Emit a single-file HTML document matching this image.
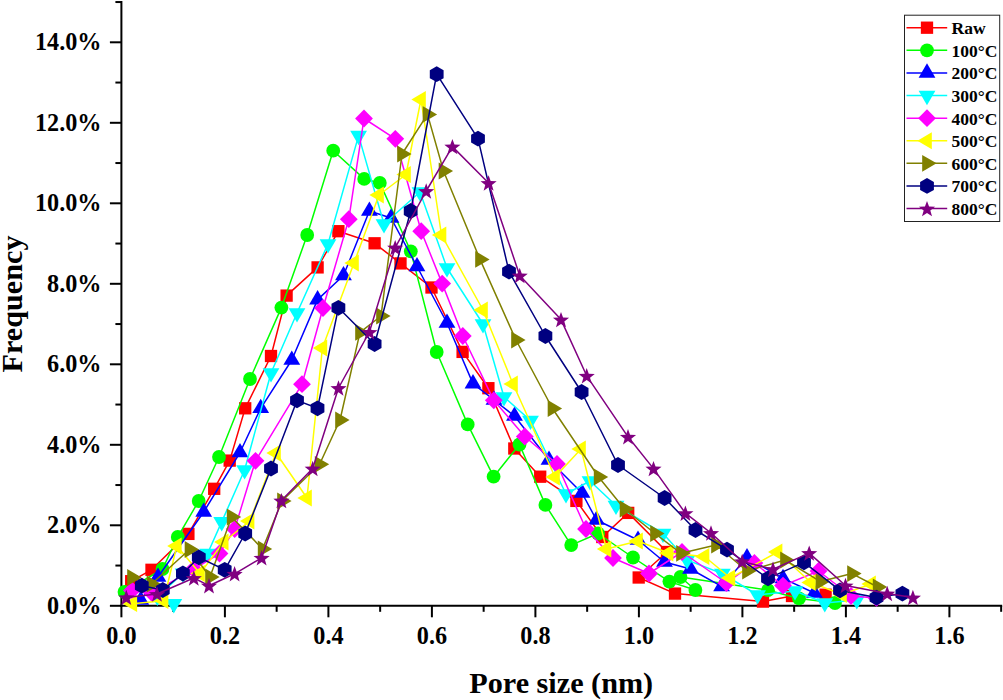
<!DOCTYPE html>
<html><head><meta charset="utf-8"><title>Pore size distribution</title>
<style>
html,body{margin:0;padding:0;background:#fff;}
body{width:1003px;height:700px;overflow:hidden;font-family:"Liberation Serif",serif;}
svg{display:block;}
text{font-family:"Liberation Serif",serif;font-weight:bold;fill:#000;}
.tk{font-size:24.2px;}
.ax{font-size:30.2px;}
.lg{font-size:17.5px;}
</style></head><body>
<svg width="1003" height="700" viewBox="0 0 1003 700">
<rect width="1003" height="700" fill="#fff"/>
<defs>
<g id="s_raw" fill="#ff0000"><rect x="-6.15" y="-6.15" width="12.3" height="12.3"/></g>
<g id="s_g" fill="#00ff00"><circle r="6.9"/></g>
<g id="s_b" fill="#0000ff"><polygon points="0.00,-9.60 -8.40,4.80 8.40,4.80"/></g>
<g id="s_c" fill="#00ffff"><polygon points="0.00,9.60 -8.40,-4.80 8.40,-4.80"/></g>
<g id="s_m" fill="#ff00ff"><polygon points="0.00,-8.90 8.90,0.00 0.00,8.90 -8.90,0.00"/></g>
<g id="s_y" fill="#ffff00"><polygon points="-9.60,0.00 4.80,-8.40 4.80,8.40"/></g>
<g id="s_o" fill="#808000"><polygon points="9.60,0.00 -4.80,-8.40 -4.80,8.40"/></g>
<g id="s_n" fill="#000080"><polygon points="0.00,-7.90 6.90,-3.95 6.90,3.95 0.00,7.90 -6.90,3.95 -6.90,-3.95"/></g>
<g id="s_p" fill="#800080"><polygon points="0.00,-7.70 2.06,-2.03 8.08,-1.83 3.33,1.88 5.00,7.68 0.00,4.30 -5.00,7.68 -3.33,1.88 -8.08,-1.83 -2.06,-2.03"/></g>
</defs>
<g stroke="#000" stroke-width="2" fill="none" stroke-linecap="butt">
<line x1="121.4" y1="1" x2="121.4" y2="606.8"/>
<line x1="120.4" y1="605.8" x2="1002.2" y2="605.8"/>
<line x1="109.9" y1="605.80" x2="121.4" y2="605.80"/>
<line x1="115.4" y1="565.55" x2="121.4" y2="565.55"/>
<line x1="109.9" y1="525.30" x2="121.4" y2="525.30"/>
<line x1="115.4" y1="485.05" x2="121.4" y2="485.05"/>
<line x1="109.9" y1="444.80" x2="121.4" y2="444.80"/>
<line x1="115.4" y1="404.55" x2="121.4" y2="404.55"/>
<line x1="109.9" y1="364.30" x2="121.4" y2="364.30"/>
<line x1="115.4" y1="324.05" x2="121.4" y2="324.05"/>
<line x1="109.9" y1="283.80" x2="121.4" y2="283.80"/>
<line x1="115.4" y1="243.55" x2="121.4" y2="243.55"/>
<line x1="109.9" y1="203.30" x2="121.4" y2="203.30"/>
<line x1="115.4" y1="163.05" x2="121.4" y2="163.05"/>
<line x1="109.9" y1="122.80" x2="121.4" y2="122.80"/>
<line x1="115.4" y1="82.55" x2="121.4" y2="82.55"/>
<line x1="109.9" y1="42.30" x2="121.4" y2="42.30"/>
<line x1="115.4" y1="2.05" x2="121.4" y2="2.05"/>
<line x1="121.40" y1="605.8" x2="121.40" y2="617.3"/>
<line x1="173.15" y1="605.8" x2="173.15" y2="611.8"/>
<line x1="224.90" y1="605.8" x2="224.90" y2="617.3"/>
<line x1="276.65" y1="605.8" x2="276.65" y2="611.8"/>
<line x1="328.40" y1="605.8" x2="328.40" y2="617.3"/>
<line x1="380.15" y1="605.8" x2="380.15" y2="611.8"/>
<line x1="431.90" y1="605.8" x2="431.90" y2="617.3"/>
<line x1="483.65" y1="605.8" x2="483.65" y2="611.8"/>
<line x1="535.40" y1="605.8" x2="535.40" y2="617.3"/>
<line x1="587.15" y1="605.8" x2="587.15" y2="611.8"/>
<line x1="638.90" y1="605.8" x2="638.90" y2="617.3"/>
<line x1="690.65" y1="605.8" x2="690.65" y2="611.8"/>
<line x1="742.40" y1="605.8" x2="742.40" y2="617.3"/>
<line x1="794.15" y1="605.8" x2="794.15" y2="611.8"/>
<line x1="845.90" y1="605.8" x2="845.90" y2="617.3"/>
<line x1="897.65" y1="605.8" x2="897.65" y2="611.8"/>
<line x1="949.40" y1="605.8" x2="949.40" y2="617.3"/>
<line x1="1001.15" y1="605.8" x2="1001.15" y2="611.8"/>
</g>
<text class="tk" x="101.5" y="613.7" text-anchor="end">0.0%</text>
<text class="tk" x="101.5" y="533.2" text-anchor="end">2.0%</text>
<text class="tk" x="101.5" y="452.7" text-anchor="end">4.0%</text>
<text class="tk" x="101.5" y="372.2" text-anchor="end">6.0%</text>
<text class="tk" x="101.5" y="291.7" text-anchor="end">8.0%</text>
<text class="tk" x="101.5" y="211.2" text-anchor="end">10.0%</text>
<text class="tk" x="101.5" y="130.7" text-anchor="end">12.0%</text>
<text class="tk" x="101.5" y="50.2" text-anchor="end">14.0%</text>
<text class="tk" x="121.4" y="644.3" text-anchor="middle">0.0</text>
<text class="tk" x="224.9" y="644.3" text-anchor="middle">0.2</text>
<text class="tk" x="328.4" y="644.3" text-anchor="middle">0.4</text>
<text class="tk" x="431.9" y="644.3" text-anchor="middle">0.6</text>
<text class="tk" x="535.4" y="644.3" text-anchor="middle">0.8</text>
<text class="tk" x="638.9" y="644.3" text-anchor="middle">1.0</text>
<text class="tk" x="742.4" y="644.3" text-anchor="middle">1.2</text>
<text class="tk" x="845.9" y="644.3" text-anchor="middle">1.4</text>
<text class="tk" x="949.4" y="644.3" text-anchor="middle">1.6</text>
<text class="ax" x="561.2" y="692.5" text-anchor="middle">Pore size (nm)</text>
<text class="ax" transform="translate(22.4,304) rotate(-90)" text-anchor="middle">Frequency</text>
<polyline fill="none" stroke="#ff0000" stroke-width="1.5" stroke-linejoin="round" points="131.20,581.20 151.50,569.80 188.40,533.90 214.20,488.80 229.70,460.60 245.20,408.30 271.00,356.00 286.60,295.60 317.60,267.40 338.40,231.20 374.60,243.30 400.50,263.40 431.50,287.50 462.60,351.90 488.40,388.20 514.30,448.50 540.20,476.70 576.40,500.90 602.30,537.00 628.20,512.90 667.00,552.00 638.70,577.50 675.00,593.60 763.00,601.60 792.00,596.00 825.60,594.70"/>
<use href="#s_raw" x="131.2" y="581.2"/>
<use href="#s_raw" x="151.5" y="569.8"/>
<use href="#s_raw" x="188.4" y="533.9"/>
<use href="#s_raw" x="214.2" y="488.8"/>
<use href="#s_raw" x="229.7" y="460.6"/>
<use href="#s_raw" x="245.2" y="408.3"/>
<use href="#s_raw" x="271.0" y="356.0"/>
<use href="#s_raw" x="286.6" y="295.6"/>
<use href="#s_raw" x="317.6" y="267.4"/>
<use href="#s_raw" x="338.4" y="231.2"/>
<use href="#s_raw" x="374.6" y="243.3"/>
<use href="#s_raw" x="400.5" y="263.4"/>
<use href="#s_raw" x="431.5" y="287.5"/>
<use href="#s_raw" x="462.6" y="351.9"/>
<use href="#s_raw" x="488.4" y="388.2"/>
<use href="#s_raw" x="514.3" y="448.5"/>
<use href="#s_raw" x="540.2" y="476.7"/>
<use href="#s_raw" x="576.4" y="500.9"/>
<use href="#s_raw" x="602.3" y="537.0"/>
<use href="#s_raw" x="628.2" y="512.9"/>
<use href="#s_raw" x="667.0" y="552.0"/>
<use href="#s_raw" x="638.7" y="577.5"/>
<use href="#s_raw" x="675.0" y="593.6"/>
<use href="#s_raw" x="763.0" y="601.6"/>
<use href="#s_raw" x="792.0" y="596.0"/>
<use href="#s_raw" x="825.6" y="594.7"/>
<polyline fill="none" stroke="#00ff00" stroke-width="1.5" stroke-linejoin="round" points="124.50,592.00 162.50,569.00 177.80,536.90 198.70,501.00 219.00,457.00 250.00,379.00 281.40,307.60 307.20,235.00 333.20,150.70 364.20,178.90 379.80,182.90 410.80,251.30 436.70,352.00 467.70,424.40 493.60,476.70 519.50,444.50 545.40,504.90 571.20,545.10 598.00,533.50 633.00,557.50 669.40,581.60 695.40,590.00 680.50,577.00 768.00,590.20 799.00,598.40 835.00,603.00"/>
<use href="#s_g" x="124.5" y="592.0"/>
<use href="#s_g" x="162.5" y="569.0"/>
<use href="#s_g" x="177.8" y="536.9"/>
<use href="#s_g" x="198.7" y="501.0"/>
<use href="#s_g" x="219.0" y="457.0"/>
<use href="#s_g" x="250.0" y="379.0"/>
<use href="#s_g" x="281.4" y="307.6"/>
<use href="#s_g" x="307.2" y="235.0"/>
<use href="#s_g" x="333.2" y="150.7"/>
<use href="#s_g" x="364.2" y="178.9"/>
<use href="#s_g" x="379.8" y="182.9"/>
<use href="#s_g" x="410.8" y="251.3"/>
<use href="#s_g" x="436.7" y="352.0"/>
<use href="#s_g" x="467.7" y="424.4"/>
<use href="#s_g" x="493.6" y="476.7"/>
<use href="#s_g" x="519.5" y="444.5"/>
<use href="#s_g" x="545.4" y="504.9"/>
<use href="#s_g" x="571.2" y="545.1"/>
<use href="#s_g" x="598.0" y="533.5"/>
<use href="#s_g" x="633.0" y="557.5"/>
<use href="#s_g" x="669.4" y="581.6"/>
<use href="#s_g" x="695.4" y="590.0"/>
<use href="#s_g" x="680.5" y="577.0"/>
<use href="#s_g" x="768.0" y="590.2"/>
<use href="#s_g" x="799.0" y="598.4"/>
<use href="#s_g" x="835.0" y="603.0"/>
<polyline fill="none" stroke="#0000ff" stroke-width="1.5" stroke-linejoin="round" points="140.80,600.00 158.00,577.00 203.70,512.00 240.00,452.50 260.70,408.30 291.80,360.00 317.60,299.60 343.50,275.50 369.40,211.00 391.00,218.00 417.00,266.50 447.00,323.00 473.00,383.60 494.00,400.00 514.50,416.00 549.00,460.00 582.00,493.00 596.50,520.00 638.00,540.00 664.50,562.00 690.50,569.00 721.60,586.40 747.00,557.60 783.00,578.40 814.40,593.00"/>
<use href="#s_b" x="140.8" y="600.0"/>
<use href="#s_b" x="158.0" y="577.0"/>
<use href="#s_b" x="203.7" y="512.0"/>
<use href="#s_b" x="240.0" y="452.5"/>
<use href="#s_b" x="260.7" y="408.3"/>
<use href="#s_b" x="291.8" y="360.0"/>
<use href="#s_b" x="317.6" y="299.6"/>
<use href="#s_b" x="343.5" y="275.5"/>
<use href="#s_b" x="369.4" y="211.0"/>
<use href="#s_b" x="391.0" y="218.0"/>
<use href="#s_b" x="417.0" y="266.5"/>
<use href="#s_b" x="447.0" y="323.0"/>
<use href="#s_b" x="473.0" y="383.6"/>
<use href="#s_b" x="494.0" y="400.0"/>
<use href="#s_b" x="514.5" y="416.0"/>
<use href="#s_b" x="549.0" y="460.0"/>
<use href="#s_b" x="582.0" y="493.0"/>
<use href="#s_b" x="596.5" y="520.0"/>
<use href="#s_b" x="638.0" y="540.0"/>
<use href="#s_b" x="664.5" y="562.0"/>
<use href="#s_b" x="690.5" y="569.0"/>
<use href="#s_b" x="721.6" y="586.4"/>
<use href="#s_b" x="747.0" y="557.6"/>
<use href="#s_b" x="783.0" y="578.4"/>
<use href="#s_b" x="814.4" y="593.0"/>
<polyline fill="none" stroke="#00ffff" stroke-width="1.5" stroke-linejoin="round" points="173.80,603.80 157.30,596.50 183.10,573.40 207.60,553.50 221.70,521.90 244.60,470.00 271.00,373.00 297.00,313.00 328.00,244.00 358.60,135.60 384.00,224.00 420.00,192.00 447.00,268.00 483.00,324.00 504.00,397.00 530.50,420.50 566.00,494.00 590.00,481.00 616.00,505.50 663.00,533.50 687.00,560.00 722.40,573.60 757.60,595.00 795.00,591.00 824.80,603.00 856.80,600.00"/>
<use href="#s_c" x="173.8" y="603.8"/>
<use href="#s_c" x="157.3" y="596.5"/>
<use href="#s_c" x="183.1" y="573.4"/>
<use href="#s_c" x="207.6" y="553.5"/>
<use href="#s_c" x="221.7" y="521.9"/>
<use href="#s_c" x="244.6" y="470.0"/>
<use href="#s_c" x="271.0" y="373.0"/>
<use href="#s_c" x="297.0" y="313.0"/>
<use href="#s_c" x="328.0" y="244.0"/>
<use href="#s_c" x="358.6" y="135.6"/>
<use href="#s_c" x="384.0" y="224.0"/>
<use href="#s_c" x="420.0" y="192.0"/>
<use href="#s_c" x="447.0" y="268.0"/>
<use href="#s_c" x="483.0" y="324.0"/>
<use href="#s_c" x="504.0" y="397.0"/>
<use href="#s_c" x="530.5" y="420.5"/>
<use href="#s_c" x="566.0" y="494.0"/>
<use href="#s_c" x="590.0" y="481.0"/>
<use href="#s_c" x="616.0" y="505.5"/>
<use href="#s_c" x="663.0" y="533.5"/>
<use href="#s_c" x="687.0" y="560.0"/>
<use href="#s_c" x="722.4" y="573.6"/>
<use href="#s_c" x="757.6" y="595.0"/>
<use href="#s_c" x="795.0" y="591.0"/>
<use href="#s_c" x="824.8" y="603.0"/>
<use href="#s_c" x="856.8" y="600.0"/>
<polyline fill="none" stroke="#ff00ff" stroke-width="1.5" stroke-linejoin="round" points="132.00,590.40 152.00,593.00 193.50,569.30 219.50,553.50 234.70,529.00 255.50,460.80 302.00,384.20 323.00,308.00 348.80,219.20 364.00,118.50 395.30,138.80 421.20,231.20 442.20,283.60 462.80,336.00 493.80,400.30 524.80,436.50 557.00,464.00 586.00,529.00 613.00,558.00 649.00,573.50 682.00,552.00 726.40,583.00 754.40,563.00 783.00,585.60 818.50,571.00 851.00,596.00 876.50,597.90"/>
<use href="#s_m" x="132.0" y="590.4"/>
<use href="#s_m" x="152.0" y="593.0"/>
<use href="#s_m" x="193.5" y="569.3"/>
<use href="#s_m" x="219.5" y="553.5"/>
<use href="#s_m" x="234.7" y="529.0"/>
<use href="#s_m" x="255.5" y="460.8"/>
<use href="#s_m" x="302.0" y="384.2"/>
<use href="#s_m" x="323.0" y="308.0"/>
<use href="#s_m" x="348.8" y="219.2"/>
<use href="#s_m" x="364.0" y="118.5"/>
<use href="#s_m" x="395.3" y="138.8"/>
<use href="#s_m" x="421.2" y="231.2"/>
<use href="#s_m" x="442.2" y="283.6"/>
<use href="#s_m" x="462.8" y="336.0"/>
<use href="#s_m" x="493.8" y="400.3"/>
<use href="#s_m" x="524.8" y="436.5"/>
<use href="#s_m" x="557.0" y="464.0"/>
<use href="#s_m" x="586.0" y="529.0"/>
<use href="#s_m" x="613.0" y="558.0"/>
<use href="#s_m" x="649.0" y="573.5"/>
<use href="#s_m" x="682.0" y="552.0"/>
<use href="#s_m" x="726.4" y="583.0"/>
<use href="#s_m" x="754.4" y="563.0"/>
<use href="#s_m" x="783.0" y="585.6"/>
<use href="#s_m" x="818.5" y="571.0"/>
<use href="#s_m" x="851.0" y="596.0"/>
<use href="#s_m" x="876.5" y="597.9"/>
<polyline fill="none" stroke="#ffff00" stroke-width="1.5" stroke-linejoin="round" points="132.30,603.70 163.60,600.70 176.80,546.00 200.00,573.50 223.70,542.00 249.60,521.00 276.00,453.00 307.00,498.00 322.40,348.00 354.00,263.00 379.00,195.00 406.00,174.50 421.00,99.50 441.50,235.00 483.00,310.00 513.00,384.00 555.00,477.00 581.00,449.00 606.50,549.00 638.00,541.00 668.50,553.00 704.50,556.50 730.40,578.00 777.60,552.00 811.00,582.50 842.00,594.50 871.00,584.00"/>
<use href="#s_y" x="132.3" y="603.7"/>
<use href="#s_y" x="163.6" y="600.7"/>
<use href="#s_y" x="176.8" y="546.0"/>
<use href="#s_y" x="200.0" y="573.5"/>
<use href="#s_y" x="223.7" y="542.0"/>
<use href="#s_y" x="249.6" y="521.0"/>
<use href="#s_y" x="276.0" y="453.0"/>
<use href="#s_y" x="307.0" y="498.0"/>
<use href="#s_y" x="322.4" y="348.0"/>
<use href="#s_y" x="354.0" y="263.0"/>
<use href="#s_y" x="379.0" y="195.0"/>
<use href="#s_y" x="406.0" y="174.5"/>
<use href="#s_y" x="421.0" y="99.5"/>
<use href="#s_y" x="441.5" y="235.0"/>
<use href="#s_y" x="483.0" y="310.0"/>
<use href="#s_y" x="513.0" y="384.0"/>
<use href="#s_y" x="555.0" y="477.0"/>
<use href="#s_y" x="581.0" y="449.0"/>
<use href="#s_y" x="606.5" y="549.0"/>
<use href="#s_y" x="638.0" y="541.0"/>
<use href="#s_y" x="668.5" y="553.0"/>
<use href="#s_y" x="704.5" y="556.5"/>
<use href="#s_y" x="730.4" y="578.0"/>
<use href="#s_y" x="777.6" y="552.0"/>
<use href="#s_y" x="811.0" y="582.5"/>
<use href="#s_y" x="842.0" y="594.5"/>
<use href="#s_y" x="871.0" y="584.0"/>
<polyline fill="none" stroke="#808000" stroke-width="1.5" stroke-linejoin="round" points="132.00,577.50 151.50,584.00 189.50,549.50 210.00,577.00 231.60,517.00 262.60,548.90 282.00,501.00 319.60,464.30 340.00,420.00 360.00,332.40 381.00,316.00 402.00,154.00 427.50,114.40 443.50,171.00 480.00,259.40 516.00,340.00 552.50,408.50 598.60,477.00 624.50,509.00 655.00,533.50 681.00,553.30 716.00,545.00 747.00,571.00 785.00,560.00 820.50,581.60 852.00,573.60 877.60,587.00"/>
<use href="#s_o" x="132.0" y="577.5"/>
<use href="#s_o" x="151.5" y="584.0"/>
<use href="#s_o" x="189.5" y="549.5"/>
<use href="#s_o" x="210.0" y="577.0"/>
<use href="#s_o" x="231.6" y="517.0"/>
<use href="#s_o" x="262.6" y="548.9"/>
<use href="#s_o" x="282.0" y="501.0"/>
<use href="#s_o" x="319.6" y="464.3"/>
<use href="#s_o" x="340.0" y="420.0"/>
<use href="#s_o" x="360.0" y="332.4"/>
<use href="#s_o" x="381.0" y="316.0"/>
<use href="#s_o" x="402.0" y="154.0"/>
<use href="#s_o" x="427.5" y="114.4"/>
<use href="#s_o" x="443.5" y="171.0"/>
<use href="#s_o" x="480.0" y="259.4"/>
<use href="#s_o" x="516.0" y="340.0"/>
<use href="#s_o" x="552.5" y="408.5"/>
<use href="#s_o" x="598.6" y="477.0"/>
<use href="#s_o" x="624.5" y="509.0"/>
<use href="#s_o" x="655.0" y="533.5"/>
<use href="#s_o" x="681.0" y="553.3"/>
<use href="#s_o" x="716.0" y="545.0"/>
<use href="#s_o" x="747.0" y="571.0"/>
<use href="#s_o" x="785.0" y="560.0"/>
<use href="#s_o" x="820.5" y="581.6"/>
<use href="#s_o" x="852.0" y="573.6"/>
<use href="#s_o" x="877.6" y="587.0"/>
<polyline fill="none" stroke="#000080" stroke-width="1.5" stroke-linejoin="round" points="141.80,585.70 162.80,590.00 182.90,573.50 198.80,557.40 224.70,569.80 245.20,533.50 271.00,468.50 297.00,400.40 317.50,408.30 338.40,307.80 374.60,344.00 410.70,211.00 436.70,74.20 478.00,138.60 509.00,271.60 545.40,336.00 581.60,392.00 618.00,465.00 664.60,498.00 695.50,530.00 727.00,549.60 768.00,578.40 804.00,562.40 840.00,590.40 876.50,597.60 902.40,593.60"/>
<use href="#s_n" x="141.8" y="585.7"/>
<use href="#s_n" x="162.8" y="590.0"/>
<use href="#s_n" x="182.9" y="573.5"/>
<use href="#s_n" x="198.8" y="557.4"/>
<use href="#s_n" x="224.7" y="569.8"/>
<use href="#s_n" x="245.2" y="533.5"/>
<use href="#s_n" x="271.0" y="468.5"/>
<use href="#s_n" x="297.0" y="400.4"/>
<use href="#s_n" x="317.5" y="408.3"/>
<use href="#s_n" x="338.4" y="307.8"/>
<use href="#s_n" x="374.6" y="344.0"/>
<use href="#s_n" x="410.7" y="211.0"/>
<use href="#s_n" x="436.7" y="74.2"/>
<use href="#s_n" x="478.0" y="138.6"/>
<use href="#s_n" x="509.0" y="271.6"/>
<use href="#s_n" x="545.4" y="336.0"/>
<use href="#s_n" x="581.6" y="392.0"/>
<use href="#s_n" x="618.0" y="465.0"/>
<use href="#s_n" x="664.6" y="498.0"/>
<use href="#s_n" x="695.5" y="530.0"/>
<use href="#s_n" x="727.0" y="549.6"/>
<use href="#s_n" x="768.0" y="578.4"/>
<use href="#s_n" x="804.0" y="562.4"/>
<use href="#s_n" x="840.0" y="590.4"/>
<use href="#s_n" x="876.5" y="597.6"/>
<use href="#s_n" x="902.4" y="593.6"/>
<polyline fill="none" stroke="#800080" stroke-width="1.5" stroke-linejoin="round" points="126.30,597.40 157.00,594.00 193.80,578.00 209.00,585.70 234.60,573.80 261.60,557.80 281.40,500.60 312.70,468.50 338.50,388.00 369.40,332.00 395.20,247.60 426.20,191.00 452.40,146.60 488.60,183.00 519.70,275.50 561.00,319.60 586.70,375.80 628.00,436.80 653.50,468.60 685.40,513.20 711.00,533.00 742.20,561.40 773.00,569.20 809.20,553.10 845.50,585.50 887.20,593.50 912.90,597.50"/>
<use href="#s_p" x="126.3" y="597.4"/>
<use href="#s_p" x="157.0" y="594.0"/>
<use href="#s_p" x="193.8" y="578.0"/>
<use href="#s_p" x="209.0" y="585.7"/>
<use href="#s_p" x="234.6" y="573.8"/>
<use href="#s_p" x="261.6" y="557.8"/>
<use href="#s_p" x="281.4" y="500.6"/>
<use href="#s_p" x="312.7" y="468.5"/>
<use href="#s_p" x="338.5" y="388.0"/>
<use href="#s_p" x="369.4" y="332.0"/>
<use href="#s_p" x="395.2" y="247.6"/>
<use href="#s_p" x="426.2" y="191.0"/>
<use href="#s_p" x="452.4" y="146.6"/>
<use href="#s_p" x="488.6" y="183.0"/>
<use href="#s_p" x="519.7" y="275.5"/>
<use href="#s_p" x="561.0" y="319.6"/>
<use href="#s_p" x="586.7" y="375.8"/>
<use href="#s_p" x="628.0" y="436.8"/>
<use href="#s_p" x="653.5" y="468.6"/>
<use href="#s_p" x="685.4" y="513.2"/>
<use href="#s_p" x="711.0" y="533.0"/>
<use href="#s_p" x="742.2" y="561.4"/>
<use href="#s_p" x="773.0" y="569.2"/>
<use href="#s_p" x="809.2" y="553.1"/>
<use href="#s_p" x="845.5" y="585.5"/>
<use href="#s_p" x="887.2" y="593.5"/>
<use href="#s_p" x="912.9" y="597.5"/>
<rect x="904.5" y="15.2" width="95.2" height="206.3" fill="#fff" stroke="#222" stroke-width="1"/>
<line x1="906.5" y1="27.70" x2="947.2" y2="27.70" stroke="#ff0000" stroke-width="1.5"/>
<use href="#s_raw" x="927" y="27.70"/>
<text class="lg" x="951.5" y="34.20">Raw</text>
<line x1="906.5" y1="50.31" x2="947.2" y2="50.31" stroke="#00ff00" stroke-width="1.5"/>
<use href="#s_g" x="927" y="50.31"/>
<text class="lg" x="951.5" y="56.81">100°C</text>
<line x1="906.5" y1="72.92" x2="947.2" y2="72.92" stroke="#0000ff" stroke-width="1.5"/>
<use href="#s_b" x="927" y="72.92"/>
<text class="lg" x="951.5" y="79.42">200°C</text>
<line x1="906.5" y1="95.53" x2="947.2" y2="95.53" stroke="#00ffff" stroke-width="1.5"/>
<use href="#s_c" x="927" y="95.53"/>
<text class="lg" x="951.5" y="102.03">300°C</text>
<line x1="906.5" y1="118.14" x2="947.2" y2="118.14" stroke="#ff00ff" stroke-width="1.5"/>
<use href="#s_m" x="927" y="118.14"/>
<text class="lg" x="951.5" y="124.64">400°C</text>
<line x1="906.5" y1="140.75" x2="947.2" y2="140.75" stroke="#ffff00" stroke-width="1.5"/>
<use href="#s_y" x="927" y="140.75"/>
<text class="lg" x="951.5" y="147.25">500°C</text>
<line x1="906.5" y1="163.36" x2="947.2" y2="163.36" stroke="#808000" stroke-width="1.5"/>
<use href="#s_o" x="927" y="163.36"/>
<text class="lg" x="951.5" y="169.86">600°C</text>
<line x1="906.5" y1="185.97" x2="947.2" y2="185.97" stroke="#000080" stroke-width="1.5"/>
<use href="#s_n" x="927" y="185.97"/>
<text class="lg" x="951.5" y="192.47">700°C</text>
<line x1="906.5" y1="208.58" x2="947.2" y2="208.58" stroke="#800080" stroke-width="1.5"/>
<use href="#s_p" x="927" y="208.58"/>
<text class="lg" x="951.5" y="215.08">800°C</text>
</svg></body></html>
